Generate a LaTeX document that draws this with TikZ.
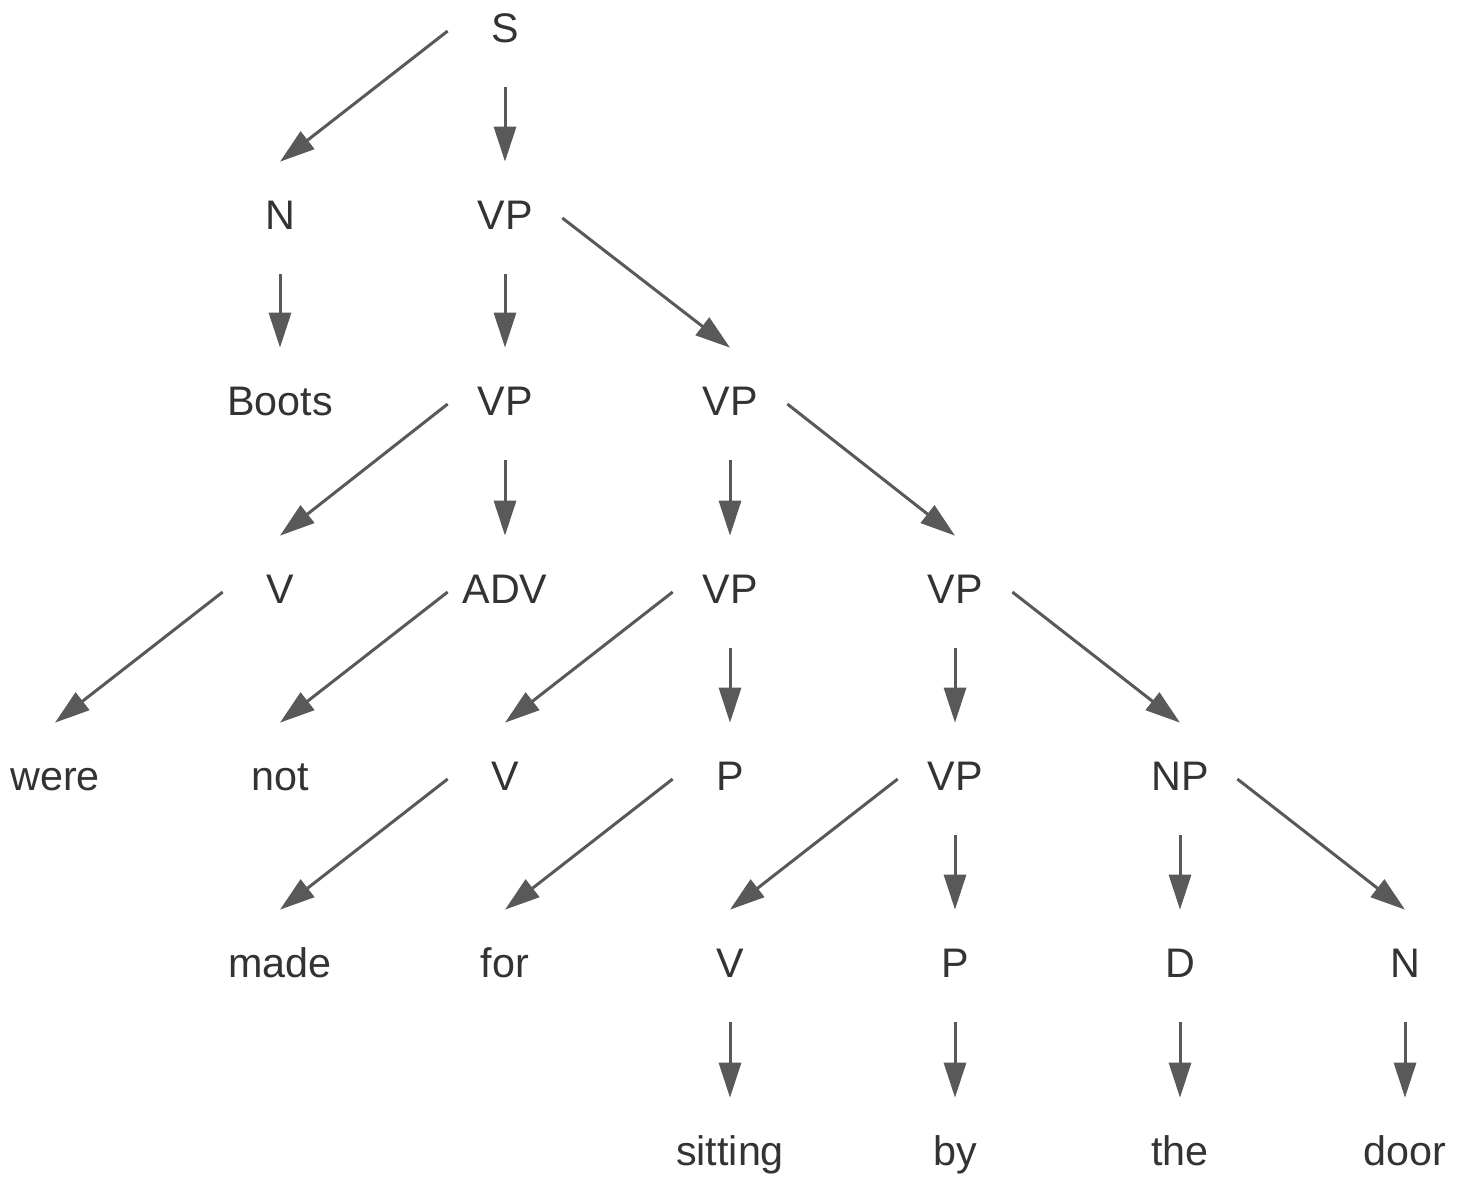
\documentclass[tikz,border=0pt]{standalone}
\usepackage{fontspec}
\setmainfont{Liberation Sans}
\usetikzlibrary{arrows.meta}
\definecolor{textgray}{HTML}{333333}
\definecolor{edgegray}{HTML}{595959}

\begin{document}
\begin{tikzpicture}[x=0.02cm, y=-0.02cm,
    word/.style={rectangle, inner sep=0pt, minimum width=2.28cm, minimum height=2.24cm,
      text height=13pt, text depth=0pt, text=textgray, font=\fontsize{23.5}{27}\selectfont},
    branch/.style={draw=edgegray, line width=0.06cm,
      -{Triangle[length=0.7cm, width=0.44cm]}, fill=edgegray}]
      \useasboundingbox (0,-3) rectangle (1460,1181);

      % row 0
      \node[word] (s) at (505,28) {S};
      % row 1
      \node[word] (n1) at (280,215) {N};
      \node[word] (vp1) at (505,215) {VP};
      % row 2
      \node[word] (boots) at (280,401) {Boots};
      \node[word] (vp2) at (505,401) {VP};
      \node[word] (vp3) at (730,401) {VP};
      % row 3
      \node[word] (v1) at (280,589) {V};
      \node[word] (adv) at (505,589) {ADV};
      \node[word] (vp4) at (730,589) {VP};
      \node[word] (vp5) at (955,589) {VP};
      % row 4
      \node[word] (were) at (55,776) {were};
      \node[word] (not) at (280,776) {not};
      \node[word] (v2) at (505,776) {V};
      \node[word] (p1) at (730,776) {P};
      \node[word] (vp6) at (955,776) {VP};
      \node[word] (np) at (1180,776) {NP};
      % row 5
      \node[word] (made) at (280,963) {made};
      \node[word] (for) at (505,963) {for};
      \node[word] (v3) at (730,963) {V};
      \node[word] (p2) at (955,963) {P};
      \node[word] (d) at (1180,963) {D};
      \node[word] (n2) at (1405,963) {N};
      % row 6
      \node[word] (sitting) at (730,1151) {sitting};
      \node[word] (by) at (955,1151) {by};
      \node[word] (the) at (1180,1151) {the};
      \node[word] (door) at (1405,1151) {door};

      \draw[branch] (s.west) -- (n1.north);
      \draw[branch] (s.south) -- (vp1.north);
      \draw[branch] (n1.south) -- (boots.north);
      \draw[branch] (vp1.south) -- (vp2.north);
      \draw[branch] (vp1.east) -- (vp3.north);
      \draw[branch] (vp2.west) -- (v1.north);
      \draw[branch] (vp2.south) -- (adv.north);
      \draw[branch] (vp3.south) -- (vp4.north);
      \draw[branch] (vp3.east) -- (vp5.north);
      \draw[branch] (v1.west) -- (were.north);
      \draw[branch] (adv.west) -- (not.north);
      \draw[branch] (vp4.west) -- (v2.north);
      \draw[branch] (vp4.south) -- (p1.north);
      \draw[branch] (vp5.south) -- (vp6.north);
      \draw[branch] (vp5.east) -- (np.north);
      \draw[branch] (v2.west) -- (made.north);
      \draw[branch] (p1.west) -- (for.north);
      \draw[branch] (vp6.west) -- (v3.north);
      \draw[branch] (vp6.south) -- (p2.north);
      \draw[branch] (np.south) -- (d.north);
      \draw[branch] (np.east) -- (n2.north);
      \draw[branch] (v3.south) -- (sitting.north);
      \draw[branch] (p2.south) -- (by.north);
      \draw[branch] (d.south) -- (the.north);
      \draw[branch] (n2.south) -- (door.north);
    \end{tikzpicture}
\end{document}
